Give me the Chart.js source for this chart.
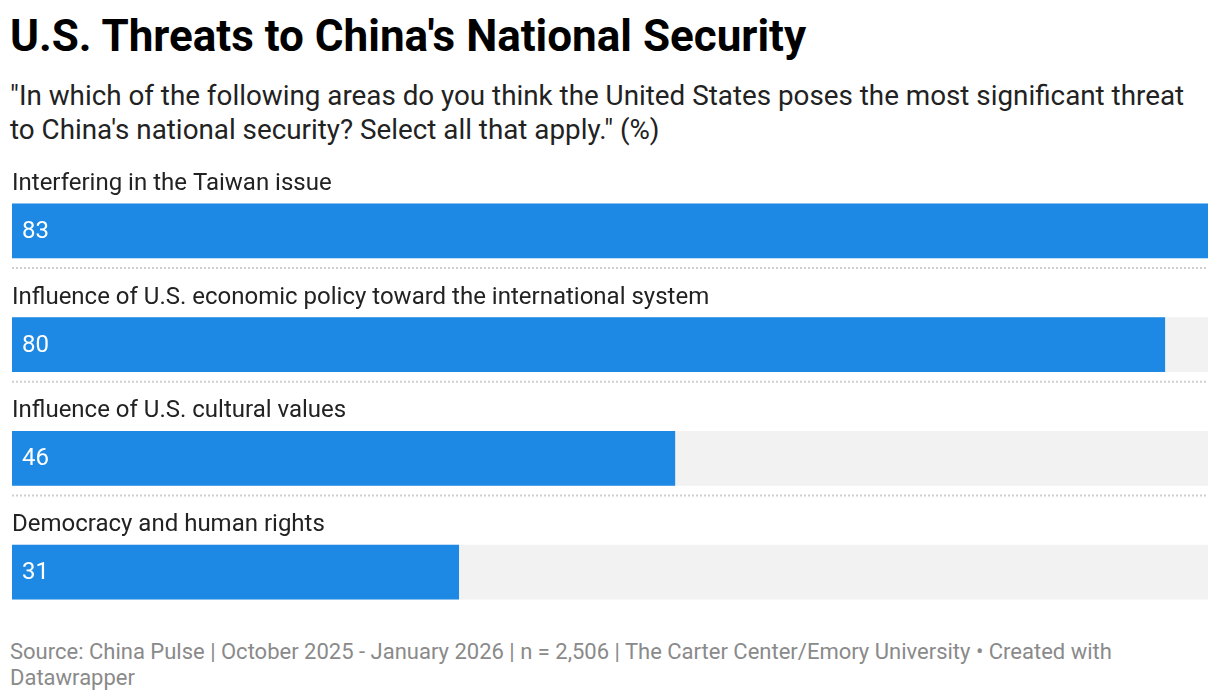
<!DOCTYPE html>
<html>
<head>
<meta charset="utf-8">
<script src="https://cdn.jsdelivr.net/npm/chart.js@4/dist/chart.umd.min.js"></script>
<style>
  body { margin: 0; width: 1220px; height: 700px; background: #fff; font-family: Roboto, sans-serif; position: relative; overflow: hidden; }
  h1 { position: absolute; left: 10px; top: 10px; margin: 0; font-size: 44px; font-weight: 700; color: #000; line-height: 52px; }
  .subtitle { position: absolute; left: 10px; top: 79px; width: 1200px; margin: 0; font-size: 27.8px; line-height: 34px; color: #222; }
  .footer { position: absolute; left: 10px; top: 639px; width: 1200px; font-size: 22px; line-height: 26px; color: #8a8a8a; }
  .chart-box { position: absolute; left: 0; top: 150px; width: 1220px; height: 479px; }
</style>
</head>
<body>
<h1>U.S. Threats to China's National Security</h1>
<div class="subtitle">"In which of the following areas do you think the United States poses the most significant threat to China's national security? Select all that apply." (%)</div>
<div class="chart-box"><canvas id="threatChart"></canvas></div>
<div class="footer">Source: China Pulse | October 2025 - January 2026 | n = 2,506 | The Carter Center/Emory University • Created with Datawrapper</div>

<script>
const categories = [
  'Interfering in the Taiwan issue',
  'Influence of U.S. economic policy toward the international system',
  'Influence of U.S. cultural values',
  'Democracy and human rights'
];
const values = [83, 80, 46, 31];

const maxValue = Math.max(...values);
const trackValues = categories.map(() => maxValue);

// category labels above bars, value labels inside, dotted separators
const rowDecor = {
  id: 'rowDecor',
  afterDatasetsDraw(chart) {
    const { ctx, chartArea } = chart;
    const bars = chart.getDatasetMeta(0).data;
    ctx.save();
    bars.forEach((bar, i) => {
      ctx.font = '24px Roboto, sans-serif';
      ctx.textBaseline = 'middle';
      ctx.textAlign = 'left';
      ctx.fillStyle = '#222';
      ctx.fillText(categories[i], chartArea.left, bar.y - 47);

      ctx.fillStyle = '#fff';
      ctx.fillText(String(values[i]), chartArea.left + 10, bar.y + 1);

      if (i < bars.length - 1) {
        ctx.strokeStyle = '#cfcfcf';
        ctx.lineWidth = 2;
        ctx.setLineDash([2, 2]);
        ctx.beginPath();
        ctx.moveTo(chartArea.left, bar.y + 37);
        ctx.lineTo(chartArea.right, bar.y + 37);
        ctx.stroke();
        ctx.setLineDash([]);
      }
    });
    ctx.restore();
  }
};

new Chart(document.getElementById('threatChart'), {
  type: 'bar',
  data: {
    labels: categories,
    datasets: [
      { data: values, backgroundColor: '#1d89e4', barThickness: 54, grouped: false, order: 0 },
      { data: trackValues, backgroundColor: '#f2f2f2', barThickness: 54, grouped: false, order: 1 }
    ]
  },
  options: {
    indexAxis: 'y',
    responsive: true,
    maintainAspectRatio: false,
    animation: false,
    layout: { padding: { left: 12, right: 12, top: 24, bottom: 0 } },
    plugins: { legend: { display: false }, tooltip: { enabled: false } },
    scales: {
      x: { display: false, min: 0, max: maxValue },
      y: { display: false }
    }
  },
  plugins: [rowDecor]
});
</script>
</body>
</html>
